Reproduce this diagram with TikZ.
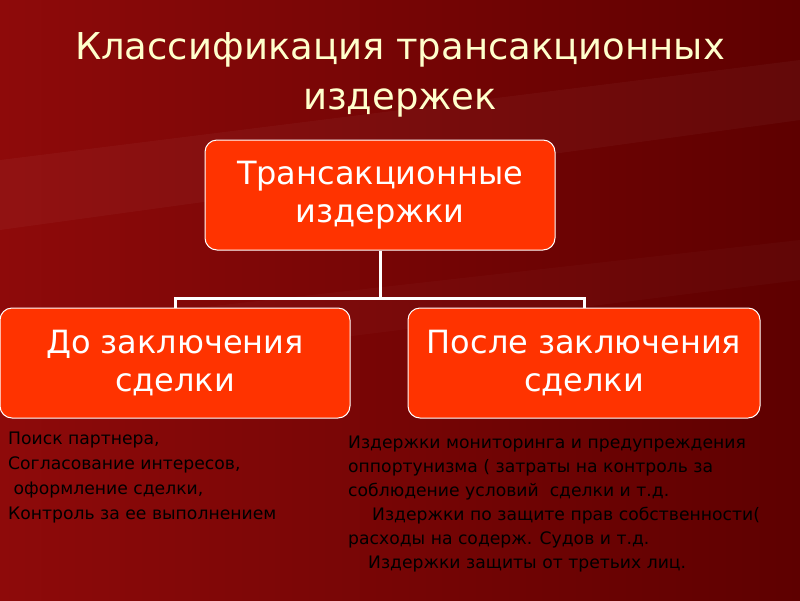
\documentclass[tikz,border=0pt]{standalone}
\usepackage{fontspec}
\setmainfont{DejaVu Sans}
\definecolor{bgA}{HTML}{8E0A0A}
\definecolor{bgB}{HTML}{5E0000}
\definecolor{boxred}{HTML}{FF3300}
\definecolor{titley}{HTML}{FFFFCC}
\tikzset{
 box/.style={draw=white, line width=1pt, fill=boxred, rounded corners=12pt, text=white, align=center, font=\fontsize{32}{38}\selectfont, inner sep=0pt},
 conn/.style={draw=white, line width=3pt},
 note/.style={anchor=north west, align=left, font=\fontsize{17.2}{25}\selectfont, text=black, inner sep=0pt}
}
\begin{document}
\begin{tikzpicture}[x=1pt,y=-1pt]
\useasboundingbox (0,0) rectangle (800,600);
\shade[left color=bgA, right color=bgB] (0,0) rectangle (800,600);
\fill[white,opacity=0.035] (0,160) -- (800,60) -- (800,120) -- (0,230) -- cycle;
\fill[white,opacity=0.025] (0,330) -- (800,240) -- (800,280) -- (0,380) -- cycle;
\node[text=titley, align=center, font=\fontsize{37}{50}\selectfont] (title) at (400,75) {Классификация трансакционных\\издержек};
\node[box, minimum width=350pt, minimum height=110pt] (top) at (380,195) {Трансакционные\\издержки};
\node[box, minimum width=350pt, minimum height=110pt] (left) at (175,363) {До заключения\\сделки};
\node[box, minimum width=352pt, minimum height=110pt] (right) at (584,363) {После заключения\\сделки};
\coordinate (mid) at (380,298);
\draw[conn] (top.south) -- (mid);
\draw[conn] (left.north) |- (mid) -| (right.north);
\node[note] (ln) at (8,432) {Поиск партнера,\\Согласование интересов,\\\ оформление сделки,\\Контроль за ее выполнением};
\node[note, font=\fontsize{17.2}{24}\selectfont] (rn) at (348,436) {Издержки мониторинга и предупреждения\\оппортунизма ( затраты на контроль за\\соблюдение условий\ \ сделки и т.д.\\\hspace*{24pt}Издержки по защите прав собственности(\\расходы на содерж. Судов и т.д.\\\hspace*{20pt}Издержки защиты от третьих лиц.};
\end{tikzpicture}
\end{document}
